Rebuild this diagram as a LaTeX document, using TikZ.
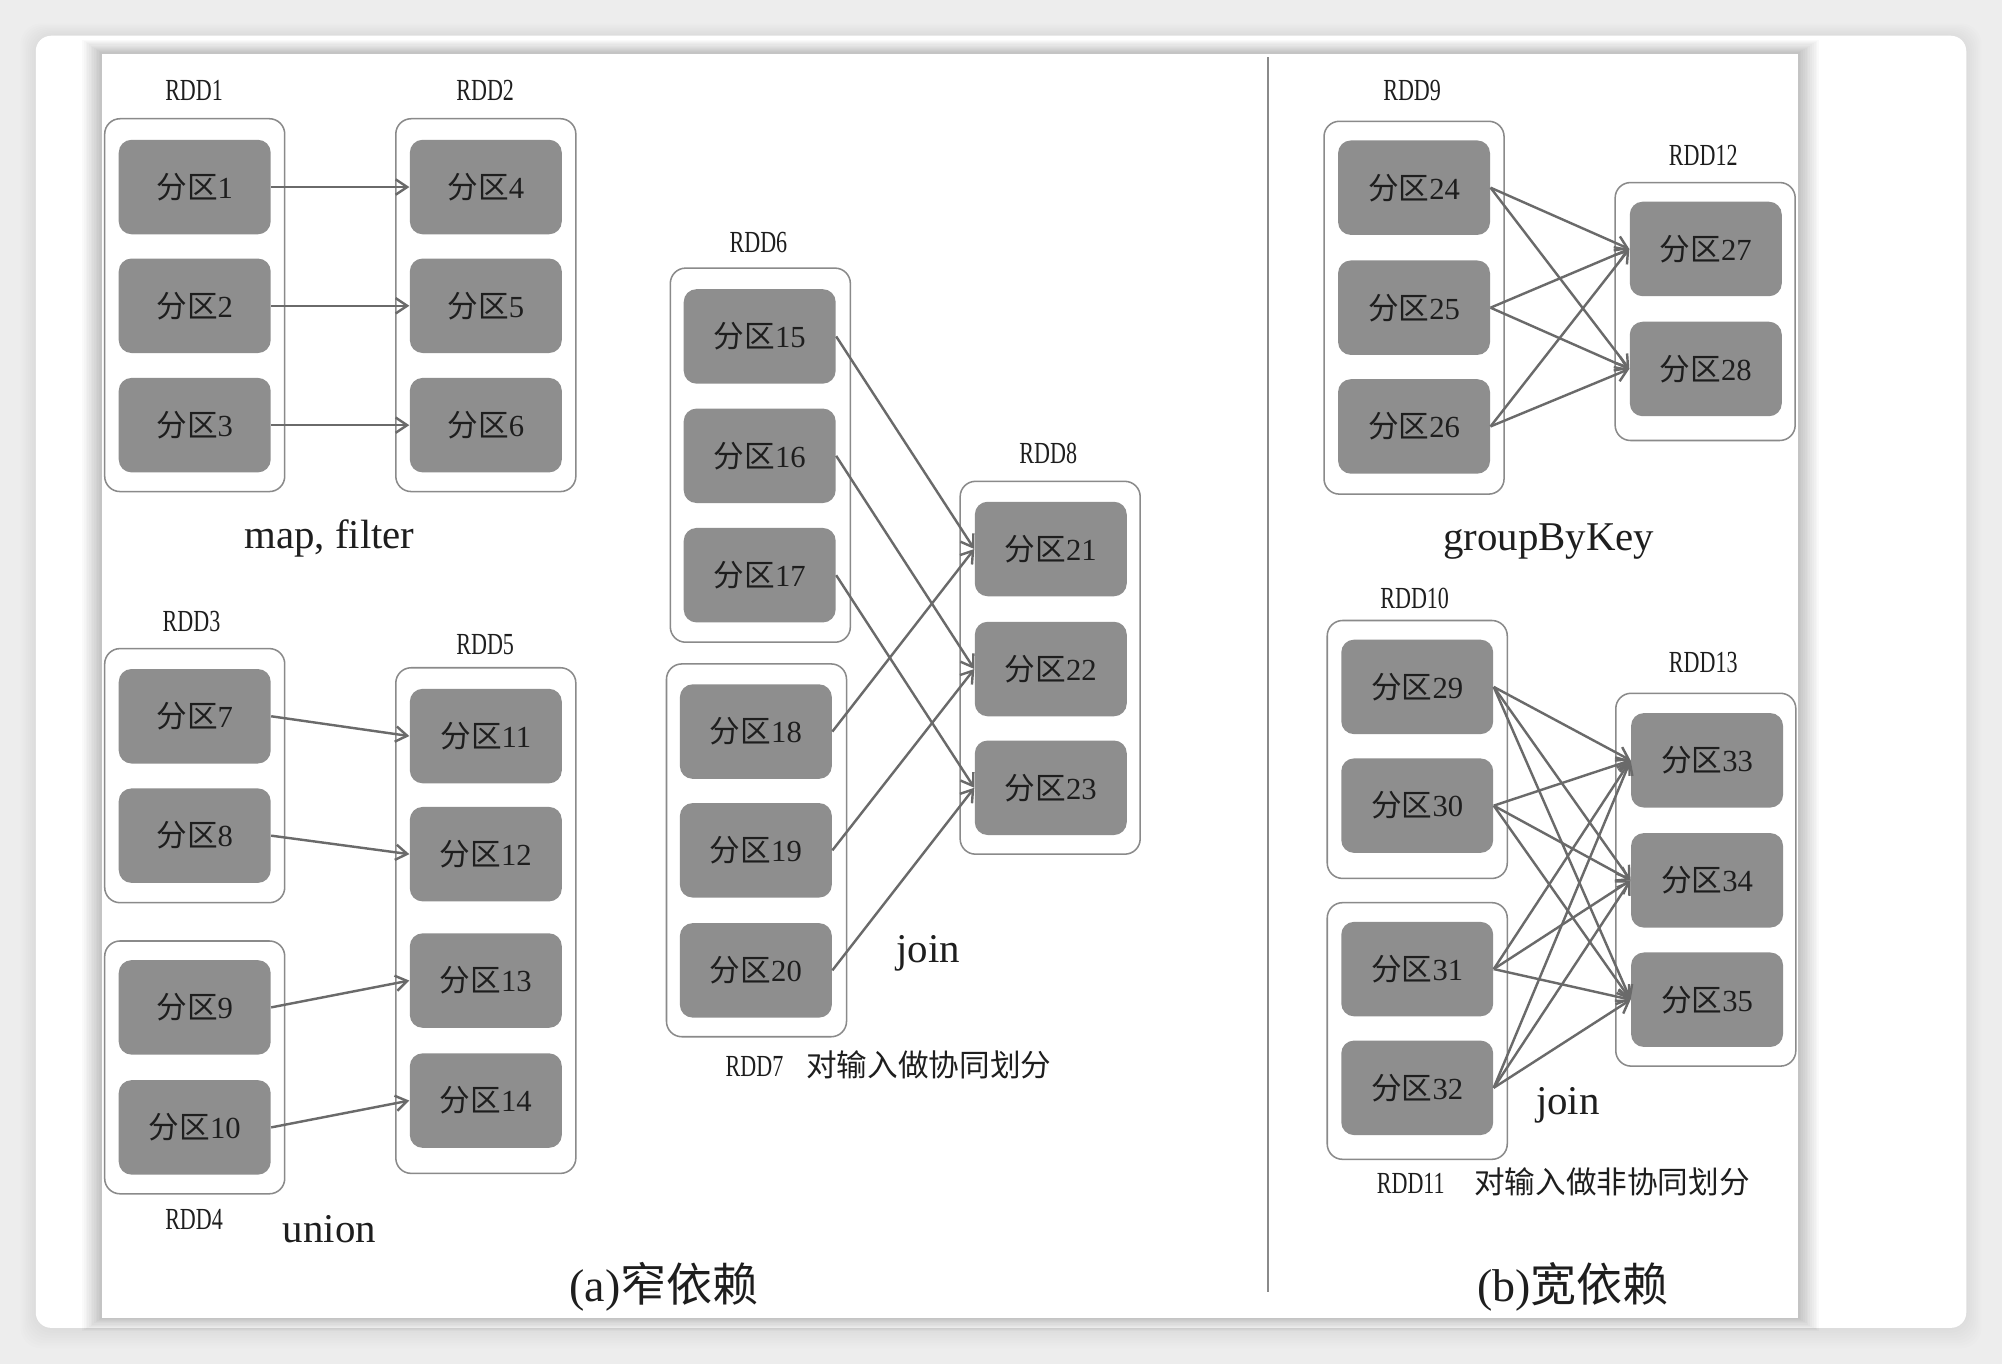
\documentclass[tikz,border=0pt]{standalone}
\usepackage{fontspec}
\setmainfont{Liberation Serif}
\newfontfamily\cjk{Noto Sans CJK SC}
\newfontfamily\rddf[FakeStretch=0.72]{Liberation Serif}
\usetikzlibrary{arrows.meta}
\definecolor{bggray}{HTML}{EDEDED}
\definecolor{partgray}{HTML}{8E8E8E}
\definecolor{boxgray}{HTML}{8A8A8A}
\definecolor{arrowgray}{HTML}{6A6A6A}
\definecolor{textdark}{HTML}{1E1E1E}
\newcommand{\fq}[1]{{\cjk 分区}#1}
\begin{document}
\begin{tikzpicture}[x=0.5pt,y=-0.5pt,
  part/.style={fill=partgray, rounded corners=5pt, minimum width=59.5pt, minimum height=37pt, inner sep=0pt, font=\fontsize{12}{13}\selectfont, text=textdark},
  cont/.style={draw=boxgray, line width=0.6pt, fill=white, rounded corners=6pt, inner sep=0pt, minimum width=70.5pt},
  rdd/.style={font=\rddf\fontsize{12}{13}\selectfont, text=textdark, inner sep=0pt},
  op/.style={font=\fontsize{16}{18}\selectfont, text=textdark, inner sep=0pt},
  captxt/.style={font=\fontsize{18}{20}\selectfont, text=textdark, inner sep=0pt},
  note/.style={font=\fontsize{12}{13}\selectfont, text=textdark, inner sep=0pt, anchor=west},
  dep/.style={draw=arrowgray, line width=0.95pt, -{Straight Barb[length=4.5pt,width=6pt]}},
]
% background and card
\fill[bggray] (0,0) rectangle (1568,1068);
\useasboundingbox (0,0) rectangle (1568,1068);
\foreach \i in {1,...,8}{
  \fill[black, opacity=0.008, rounded corners=8pt] (28-\i*1.5,28-\i*1.2) rectangle (1540+\i*1.5,1040+\i*2);
}
\fill[white, rounded corners=6pt] (28,28) rectangle (1540,1040);
% diagram shadow
\foreach \i in {1,...,12}{
  \fill[black, opacity=0.018] (80-\i*1.3,42-\i*0.9) rectangle (1408+\i*1.4,1032+\i*0.9);
}
\fill[white] (80,42) rectangle (1408,1032);

% ---------- (a) narrow ----------
\node[cont, minimum height=146pt] (rdd1) at (152.5,239) {};
\node[cont, minimum height=146pt] (rdd2) at (380.5,239) {};
\node[rdd] (l1) at (152,71) {RDD1};
\node[rdd] (l2) at (380,71) {RDD2};
\node[part] (p1) at (152.5,146.5) {\fq{1}};
\node[part] (p2) at (152.5,239.5) {\fq{2}};
\node[part] (p3) at (152.5,333) {\fq{3}};
\node[part] (p4) at (380.5,146.5) {\fq{4}};
\node[part] (p5) at (380.5,239.5) {\fq{5}};
\node[part] (p6) at (380.5,333) {\fq{6}};
\draw[dep] (p1.east) -- (p4.west);
\draw[dep] (p2.east) -- (p5.west);
\draw[dep] (p3.east) -- (p6.west);
\node[op] (mapf) at (258,422) {map, filter};

\node[cont, minimum height=99.5pt] (rdd3) at (152.5,607.5) {};
\node[cont, minimum height=99pt] (rdd4) at (152.5,836) {};
\node[cont, minimum height=198pt] (rdd5) at (380.5,721) {};
\node[rdd] (l3) at (150,487) {RDD3};
\node[rdd] (l5) at (380,505) {RDD5};
\node[rdd] (l4) at (152,955) {RDD4};
\node[part] (p7) at (152.5,561) {\fq{7}};
\node[part] (p8) at (152.5,654.5) {\fq{8}};
\node[part] (p9) at (152.5,789) {\fq{9}};
\node[part] (p10) at (152.5,883) {\fq{10}};
\node[part] (p11) at (380.5,576.5) {\fq{11}};
\node[part] (p12) at (380.5,669) {\fq{12}};
\node[part] (p13) at (380.5,768) {\fq{13}};
\node[part] (p14) at (380.5,862) {\fq{14}};
\draw[dep] (p7.east) -- (p11.west);
\draw[dep] (p8.east) -- (p12.west);
\draw[dep] (p9.east) -- (p13.west);
\draw[dep] (p10.east) -- (p14.west);
\node[op] (union) at (258,963) {union};

\node[cont, minimum height=146.5pt] (rdd6) at (595.5,356.5) {};
\node[cont, minimum height=146pt] (rdd7) at (592.5,666) {};
\node[cont, minimum height=146pt] (rdd8) at (822.5,523) {};
\node[rdd] (l6) at (594,190) {RDD6};
\node[rdd] (l8) at (821,355) {RDD8};
\node[part] (p15) at (595,263.5) {\fq{15}};
\node[part] (p16) at (595,357) {\fq{16}};
\node[part] (p17) at (595,450.5) {\fq{17}};
\node[part] (p18) at (592,573) {\fq{18}};
\node[part] (p19) at (592,666) {\fq{19}};
\node[part] (p20) at (592,760) {\fq{20}};
\node[part] (p21) at (823,430) {\fq{21}};
\node[part] (p22) at (823,524) {\fq{22}};
\node[part] (p23) at (823,617) {\fq{23}};
\draw[dep] (p15.east) -- (p21.west);
\draw[dep] (p16.east) -- (p22.west);
\draw[dep] (p17.east) -- (p23.west);
\draw[dep] (p18.east) -- (p21.west);
\draw[dep] (p19.east) -- (p22.west);
\draw[dep] (p20.east) -- (p23.west);
\node[op] (join1) at (727,747) {join};
\node[note] (l7) at (568,834) {{\rddf\fontsize{12}{13}\selectfont RDD7}\hspace{9pt}{\cjk 对输入做协同划分}};
\node[captxt] (capa) at (520,1008) {(a){\cjk 窄依赖}};

% divider
\coordinate (dtop) at (993,45);
\coordinate (dbot) at (993,1012);
\draw[draw=boxgray, line width=0.7pt] (dtop) -- (dbot);

% ---------- (b) wide ----------
\node[cont, minimum height=146pt] (rdd9) at (1107.5,241) {};
\node[cont, minimum height=101pt] (rdd12) at (1335.5,244) {};
\node[rdd] (l9) at (1106,71) {RDD9};
\node[rdd] (l12) at (1334,122) {RDD12};
\node[part] (p24) at (1107.5,147) {\fq{24}};
\node[part] (p25) at (1107.5,241) {\fq{25}};
\node[part] (p26) at (1107.5,334) {\fq{26}};
\node[part] (p27) at (1336,195) {\fq{27}};
\node[part] (p28) at (1336,289) {\fq{28}};
\foreach \s in {24,25,26}{
  \foreach \t in {27,28}{
    \draw[dep] (p\s.east) -- (p\t.west);
  }
}
\node[op] (gbk) at (1213,424) {groupByKey};

\node[cont, minimum height=101pt] (rdd10) at (1110,587) {};
\node[cont, minimum height=100.5pt] (rdd11) at (1110,807.5) {};
\node[cont, minimum height=146pt] (rdd13) at (1336,689) {};
\node[rdd] (l10) at (1108,469) {RDD10};
\node[rdd] (l13) at (1334,519) {RDD13};
\node[part] (p29) at (1110,538) {\fq{29}};
\node[part] (p30) at (1110,631) {\fq{30}};
\node[part] (p31) at (1110,759) {\fq{31}};
\node[part] (p32) at (1110,852) {\fq{32}};
\node[part] (p33) at (1337,595.5) {\fq{33}};
\node[part] (p34) at (1337,689.5) {\fq{34}};
\node[part] (p35) at (1337,783) {\fq{35}};
\foreach \s in {29,30,31,32}{
  \foreach \t in {33,34,35}{
    \draw[dep] (p\s.east) -- (p\t.west);
  }
}
\node[op] (join2) at (1228,866) {join};
\node[note] (l11) at (1078,926) {{\rddf\fontsize{12}{13}\selectfont RDD11}\hspace{11.5pt}{\cjk 对输入做非协同划分}};
\node[captxt] (capb) at (1232,1008) {(b){\cjk 宽依赖}};
\end{tikzpicture}
\end{document}
